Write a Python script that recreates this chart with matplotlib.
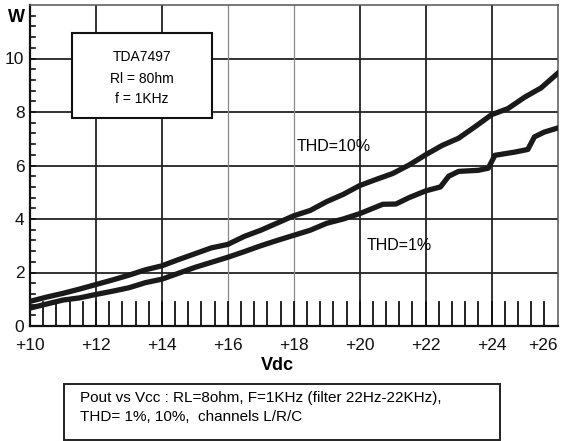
import matplotlib.pyplot as plt
from matplotlib.patches import Rectangle

# curve readings (Vdc, W)
v_10 = [10.0, 10.5, 11.0, 11.5, 12.0, 12.5, 13.0, 13.5, 14.0, 14.5, 15.0, 15.5,
        16.0, 16.5, 17.0, 17.5, 18.0, 18.5, 19.0, 19.5, 20.0, 20.5, 21.0, 21.5,
        22.0, 22.5, 23.0, 23.5, 24.0, 24.5, 25.0, 25.5, 26.0]
p_10 = [0.92, 1.08, 1.22, 1.38, 1.55, 1.72, 1.90, 2.10, 2.25, 2.48, 2.70, 2.92,
        3.05, 3.35, 3.58, 3.85, 4.12, 4.32, 4.65, 4.92, 5.25, 5.48, 5.70, 6.02,
        6.40, 6.75, 7.02, 7.45, 7.90, 8.13, 8.55, 8.90, 9.44]

v_1 = [10.0, 10.5, 11.0, 11.5, 12.0, 12.5, 13.0, 13.5, 14.0, 14.5, 15.0, 15.5,
       16.0, 16.5, 17.0, 17.5, 18.0, 18.5, 19.0, 19.5, 20.0, 20.5, 20.7, 21.1,
       21.5, 22.0, 22.45, 22.7, 23.0, 23.6, 23.9, 24.1, 24.7, 25.1, 25.3, 25.6, 26.0]
p_1 = [0.67, 0.82, 0.97, 1.05, 1.18, 1.30, 1.43, 1.62, 1.75, 1.97, 2.19, 2.38,
       2.57, 2.78, 3.00, 3.20, 3.39, 3.58, 3.84, 4.00, 4.20, 4.45, 4.55, 4.56,
       4.80, 5.05, 5.20, 5.60, 5.78, 5.82, 5.90, 6.38, 6.50, 6.60, 7.07, 7.25, 7.40]

x_ticks = [10, 12, 14, 16, 18, 20, 22, 24, 26]
x_labels = ["+10", "+12", "+14", "+16", "+18", "+20", "+22", "+24", "+26"]
y_ticks = [0, 2, 4, 6, 8, 10]

W, H = 564, 441
plt.rcParams['font.family'] = ['Liberation Sans', 'DejaVu Sans']

fig = plt.figure(figsize=(W / 100, H / 100), dpi=100)
ax = fig.add_axes([30 / W, 1 - 326 / H, 527.5 / W, 321 / H])
ax.set_xlim(10, 26)
ax.set_ylim(0, 12)

# grid
for y in y_ticks[1:]:
    ax.axhline(y, color='#222222', lw=1.3, zorder=1)
for x in x_ticks[1:-1]:
    light = x in (16, 18)
    ax.axvline(x, color='#888888' if light else '#222222', lw=0.9 if light else 1.3, zorder=1)

# tall ticks along the bottom, every 0.4 V
for i in range(1, 40):
    ax.plot([10 + 0.4 * i] * 2, [0, 0.9], color='#111111', lw=1.3, zorder=1)

# minor ticks on the left axis
for i in range(1, 30):
    ax.plot([10, 10.16], [0.4 * i] * 2, color='#111111', lw=1.2, zorder=2,
            clip_on=False)

ax.plot(v_10, p_10, color='#1a1a1a', lw=3.8, solid_joinstyle='round', zorder=3)
ax.plot(v_1, p_1, color='#1a1a1a', lw=3.8, solid_joinstyle='round', zorder=3)

ax.text(18.1, 6.7, "THD=10%", fontsize=11.5, va='center', ha='left', zorder=4)
ax.text(20.2, 3.0, "THD=1%", fontsize=11.5, va='center', ha='left', zorder=4)

# info box
ax.add_patch(Rectangle((11.27, 7.76), 4.26, 3.21, facecolor='white',
                       edgecolor='#111111', lw=1.5, zorder=5))
for y, s in zip([10.04, 9.25, 8.5], ["TDA7497", "Rl = 80hm", "f = 1KHz"]):
    ax.text(13.4, y, s, fontsize=10, ha='center', va='center', zorder=6)

ax.set_xticks(x_ticks)
ax.set_xticklabels(x_labels)
ax.set_yticks(y_ticks)
ax.tick_params(length=0, labelsize=12.5, colors='#111111')
ax.tick_params(axis='x', pad=9)
ax.tick_params(axis='y', pad=4)
ax.get_xticklabels()[-1].set_horizontalalignment('right')
ax.get_xticklabels()[-1].set_x(26.15)
for side in ('left', 'bottom'):
    ax.spines[side].set_linewidth(1.6)
    ax.spines[side].set_color('#111111')
for side in ('top', 'right'):
    ax.spines[side].set_linewidth(1.1)
    ax.spines[side].set_color('#555555')

fig.text(16 / W, 1 - 17 / H, "W", fontsize=13, fontweight='bold', ha='center', va='center')
fig.text(277 / W, 1 - 366 / H, "Vdc", fontsize=13, fontweight='bold', ha='center', va='center')

# caption box
fig.patches.append(Rectangle((64 / W, 1 - 440 / H), 436 / W, 56 / H,
                             transform=fig.transFigure, facecolor='white',
                             edgecolor='#222222', lw=1.4))
fig.text(80 / W, 1 - 398 / H, "Pout vs Vcc : RL=8ohm, F=1KHz (filter 22Hz-22KHz),",
         fontsize=11, ha='left', va='center')
fig.text(80 / W, 1 - 417 / H, "THD= 1%, 10%,  channels L/R/C",
         fontsize=11, ha='left', va='center')

fig.savefig("out.png", dpi=100)
